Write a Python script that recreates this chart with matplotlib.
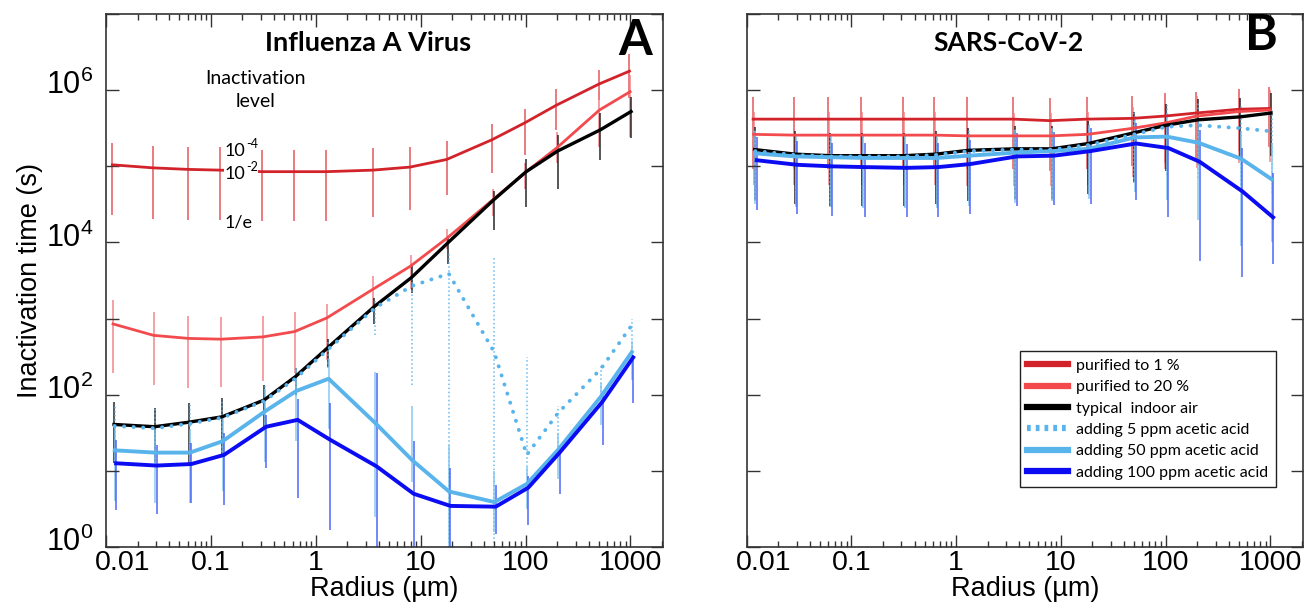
import numpy as np
import matplotlib
matplotlib.use("Agg")
import matplotlib.pyplot as plt
from matplotlib import font_manager as fm
from matplotlib.ticker import FixedLocator, FuncFormatter, LogLocator, NullLocator
from matplotlib.transforms import ScaledTranslation

# droplet radius (um) of each computed point
radius = [0.0115, 0.028, 0.06, 0.123, 0.31, 0.62, 1.26, 3.5, 7.9, 17.7, 48, 98, 195, 500, 980]

labels = ["purified to 1 %", "purified to 20 %", "typical  indoor air",
          "adding 5 ppm acetic acid", "adding 50 ppm acetic acid", "adding 100 ppm acetic acid"]

# log10 of the inactivation time (s), 10^-2 level (line), 10^-4 (hi) and 1/e (lo)
# --- Influenza A
fluA_pur1 = [5.02, 4.98, 4.96, 4.95, 4.93, 4.93, 4.93, 4.95, 4.99, 5.09, 5.35, 5.57, 5.80, 6.08, 6.25]
fluA_pur1_hi = [5.31, 5.27, 5.26, 5.25, 5.22, 5.22, 5.22, 5.24, 5.26, 5.33, 5.56, 5.75, 6.02, 6.27, 6.48]
fluA_pur1_lo = [4.36, 4.31, 4.29, 4.29, 4.28, 4.28, 4.28, 4.33, 4.43, 4.63, 4.91, 5.15, 5.48, 5.87, 5.90]
fluA_pur20 = [2.93, 2.78, 2.74, 2.73, 2.76, 2.83, 3.01, 3.39, 3.69, 4.06, 4.56, 4.92, 5.24, 5.74, 5.98]
fluA_pur20_hi = [3.24, 3.09, 3.04, 3.02, 3.04, 3.09, 3.19, 3.56, 3.83, 4.18, 4.70, 5.05, 5.45, 5.87, 6.20]
fluA_pur20_lo = [2.28, 2.13, 2.09, 2.10, 2.18, 2.28, 2.45, 3.17, 3.39, 3.91, 4.35, 4.70, 5.05, 5.26, 5.39]
fluA_indoor = [1.61, 1.58, 1.64, 1.71, 1.93, 2.24, 2.62, 3.16, 3.54, 4.00, 4.56, 4.93, 5.20, 5.48, 5.72]
fluA_indoor_hi = [1.90, 1.83, 1.89, 1.96, 2.13, 2.35, 2.73, 3.27, 3.69, 4.09, 4.67, 5.10, 5.41, 5.70, 5.91]
fluA_indoor_lo = [1.10, 1.11, 1.11, 1.21, 1.58, 2.00, 2.37, 2.93, 3.34, 3.72, 4.17, 4.46, 4.70, 5.08, 5.37]
fluA_ac5 = [1.59, 1.56, 1.62, 1.70, 1.92, 2.22, 2.60, 3.14, 3.43, 3.59, 2.56, 1.21, 1.76, 2.34, 2.91]
fluA_ac5_hi = [1.88, 1.82, 1.88, 1.95, 2.12, 2.34, 2.72, 3.25, 3.55, 3.87, 3.81, 2.50, 1.85, 2.40, 3.00]
fluA_ac5_lo = [1.08, 1.10, 1.10, 1.20, 1.56, 1.98, 2.35, 2.78, 2.13, 0.05, 0.05, 0.95, 1.21, 1.98, 2.56]
fluA_ac50 = [1.27, 1.24, 1.24, 1.39, 1.78, 2.05, 2.21, 1.63, 1.14, 0.73, 0.59, 0.83, 1.28, 1.98, 2.56]
fluA_ac50_hi = [1.57, 1.54, 1.54, 1.69, 2.08, 2.35, 2.47, 2.30, 1.85, 1.34, 1.00, 1.05, 1.50, 2.15, 2.70]
fluA_ac50_lo = [0.61, 0.58, 0.58, 0.73, 1.12, 1.39, 1.55, 0.40, 0.85, -0.5, 0.20, 0.50, 0.90, 1.60, 2.20]
fluA_ac100 = [1.10, 1.07, 1.09, 1.21, 1.58, 1.67, 1.41, 1.06, 0.70, 0.54, 0.53, 0.78, 1.24, 1.91, 2.49]
fluA_ac100_hi = [1.41, 1.34, 1.37, 1.50, 1.74, 1.95, 1.89, 2.28, 1.39, 1.04, 0.82, 0.93, 1.30, 1.98, 2.52]
fluA_ac100_lo = [0.48, 0.43, 0.58, 0.55, 1.04, 0.65, 0.22, -0.5, -0.5, -0.5, 0.17, 0.29, 0.69, 1.34, 1.89]

# --- SARS-CoV-2
cov_pur1 = [5.62, 5.62, 5.62, 5.62, 5.62, 5.62, 5.62, 5.62, 5.60, 5.62, 5.63, 5.66, 5.70, 5.75, 5.76]
cov_pur1_hi = [5.91, 5.91, 5.91, 5.91, 5.91, 5.91, 5.91, 5.91, 5.90, 5.91, 5.93, 5.96, 5.98, 6.02, 6.04]
cov_pur1_lo = [4.96, 4.96, 4.96, 4.96, 4.96, 4.96, 4.96, 4.96, 4.94, 4.96, 5.00, 5.05, 5.10, 5.20, 5.25]
cov_pur20 = [5.42, 5.41, 5.41, 5.41, 5.41, 5.41, 5.40, 5.40, 5.40, 5.42, 5.50, 5.57, 5.66, 5.72, 5.74]
cov_pur20_hi = [5.72, 5.71, 5.71, 5.71, 5.71, 5.71, 5.70, 5.70, 5.70, 5.72, 5.78, 5.84, 5.92, 5.98, 6.00]
cov_pur20_lo = [4.76, 4.75, 4.75, 4.75, 4.75, 4.75, 4.74, 4.74, 4.74, 4.76, 4.86, 4.96, 4.98, 5.04, 5.06]
cov_indoor = [5.22, 5.16, 5.14, 5.14, 5.14, 5.16, 5.21, 5.23, 5.23, 5.30, 5.44, 5.54, 5.61, 5.65, 5.70]
cov_indoor_hi = [5.52, 5.46, 5.44, 5.44, 5.44, 5.46, 5.51, 5.53, 5.53, 5.60, 5.72, 5.82, 5.88, 5.90, 5.96]
cov_indoor_lo = [4.56, 4.50, 4.48, 4.48, 4.48, 4.50, 4.55, 4.57, 4.57, 4.64, 4.80, 4.94, 5.02, 5.08, 5.14]
cov_ac5 = [5.20, 5.15, 5.13, 5.13, 5.13, 5.15, 5.20, 5.22, 5.22, 5.28, 5.42, 5.52, 5.54, 5.50, 5.46]
cov_ac5_hi = [5.50, 5.45, 5.43, 5.43, 5.43, 5.45, 5.50, 5.52, 5.52, 5.58, 5.72, 5.80, 5.84, 5.80, 5.76]
cov_ac5_lo = [4.54, 4.49, 4.47, 4.47, 4.47, 4.49, 4.54, 4.56, 4.56, 4.62, 4.78, 4.88, 4.85, 4.75, 4.65]
cov_ac50 = [5.17, 5.13, 5.12, 5.11, 5.11, 5.11, 5.14, 5.18, 5.20, 5.23, 5.38, 5.39, 5.31, 5.10, 4.83]
cov_ac50_hi = [5.47, 5.43, 5.42, 5.41, 5.41, 5.41, 5.44, 5.48, 5.50, 5.53, 5.66, 5.70, 5.62, 5.45, 5.30]
cov_ac50_lo = [4.51, 4.47, 4.46, 4.45, 4.45, 4.45, 4.48, 4.52, 4.54, 4.57, 4.66, 4.56, 4.30, 3.95, 4.00]
cov_ac100 = [5.08, 5.02, 5.00, 4.99, 4.98, 4.99, 5.03, 5.13, 5.14, 5.20, 5.30, 5.24, 5.06, 4.67, 4.33]
cov_ac100_hi = [5.39, 5.33, 5.31, 5.30, 5.29, 5.30, 5.34, 5.44, 5.45, 5.50, 5.57, 5.59, 5.48, 5.24, 4.91]
cov_ac100_lo = [4.43, 4.37, 4.35, 4.34, 4.33, 4.34, 4.38, 4.48, 4.49, 4.50, 4.56, 4.33, 3.76, 3.54, 3.72]

xtick_vals = [0.01, 0.1, 1, 10, 100, 1000]
xtick_text = ["0.01", "0.1", "1", "10", "100", "1000"]

# line styles per scenario: colour, bar colour, width, dash, x-dodge in decades
styles = [
    dict(c="#d2232a", bc="#e0454c", lw=2.0, ls="-", dx=0.000),
    dict(c="#f24a4d", bc="#f07a7e", lw=2.0, ls="-", dx=0.006),
    dict(c="#000000", bc="#111111", lw=2.4, ls="-", dx=0.015),
    dict(c="#5ab4ec", bc="#5ab4ec", lw=2.8, ls=(0, (0.05, 2.4)), dx=0.020),
    dict(c="#5ab4ec", bc="#7cc4f0", lw=2.8, ls="-", dx=0.022),
    dict(c="#0b0cf2", bc="#3c55f5", lw=2.8, ls="-", dx=0.035),
]

names = {f.name for f in fm.fontManager.ttflist}
narrow = "Liberation Sans Narrow" if "Liberation Sans Narrow" in names else "Liberation Sans"
plt.rcParams["font.family"] = ["Lato", "DejaVu Sans"]
plt.rcParams["mathtext.default"] = "regular"

fig = plt.figure(figsize=(13.11, 6.11), dpi=100)
axA = fig.add_axes([0.0809, 0.1047, 0.4249, 0.8723])
axB = fig.add_axes([0.5696, 0.1047, 0.4243, 0.8723])

panels = [
    (axA, [(fluA_pur1, fluA_pur1_lo, fluA_pur1_hi), (fluA_pur20, fluA_pur20_lo, fluA_pur20_hi),
           (fluA_indoor, fluA_indoor_lo, fluA_indoor_hi), (fluA_ac5, fluA_ac5_lo, fluA_ac5_hi),
           (fluA_ac50, fluA_ac50_lo, fluA_ac50_hi), (fluA_ac100, fluA_ac100_lo, fluA_ac100_hi)]),
    (axB, [(cov_pur1, cov_pur1_lo, cov_pur1_hi), (cov_pur20, cov_pur20_lo, cov_pur20_hi),
           (cov_indoor, cov_indoor_lo, cov_indoor_hi), (cov_ac5, cov_ac5_lo, cov_ac5_hi),
           (cov_ac50, cov_ac50_lo, cov_ac50_hi), (cov_ac100, cov_ac100_lo, cov_ac100_hi)]),
]

line_order = [0, 1, 2, 4, 5, 3]  # dotted 5 ppm drawn last, over the indoor curve
r = np.array(radius)
for ax, series in panels:
    for k, (mid, lo, hi) in enumerate(series):
        st = styles[k]
        x = r * 10 ** st["dx"]
        ax.vlines(x, 10 ** np.array(lo), 10 ** np.array(hi), color=st["bc"], lw=1.1,
                  linestyles=":" if k == 3 else "-", alpha=0.9, zorder=1)
    for k in line_order:
        mid = series[k][0]
        st = styles[k]
        ax.plot(r * 10 ** st["dx"], 10 ** np.array(mid), color=st["c"], lw=st["lw"],
                ls=st["ls"], dash_capstyle="round", zorder=2 + line_order.index(k),
                label=labels[k])

    ax.set_xscale("log")
    ax.set_yscale("log")
    ax.set_xlim(0.01, 2050)
    ax.set_ylim(1, 1e7)
    ax.xaxis.set_major_locator(FixedLocator(xtick_vals))
    ax.set_xticklabels(xtick_text)
    ax.xaxis.set_minor_locator(LogLocator(base=10, subs=np.arange(2, 10)))
    ax.yaxis.set_major_locator(FixedLocator([10.0 ** e for e in range(0, 8)]))
    ax.yaxis.set_minor_locator(NullLocator())
    ax.tick_params(which="both", direction="in", top=True, right=True, width=1.0, color="#333333")
    ax.tick_params(which="major", length=9)
    ax.tick_params(axis="x", which="major", pad=2)
    ax.tick_params(axis="y", which="major", pad=9)
    ax.tick_params(which="minor", length=4)
    for lab in ax.get_xticklabels():
        lab.set_fontfamily(narrow)
        lab.set_fontsize(20.5)
    for sp in ax.spines.values():
        sp.set_color("#333333")
        sp.set_linewidth(1.2)
    ax.set_xlabel("Radius (\u00b5m)", family=narrow, fontsize=19.5, labelpad=0)

axA.yaxis.set_major_formatter(FuncFormatter(
    lambda v, p: "$10^{%d}$" % round(np.log10(v)) if round(np.log10(v)) % 2 == 0 else ""))
for lab in axA.get_yticklabels():
    lab.set_fontfamily(narrow)
    lab.set_fontsize(22)
axB.yaxis.set_major_formatter(FuncFormatter(lambda v, p: ""))
axA.set_ylabel("Inactivation time (s)", family=narrow, fontsize=19.5, labelpad=2)

# first radius label sits inside the frame; power labels sit a little above their ticks
for ax in (axA, axB):
    first = ax.get_xticklabels()[0]
    first.set_transform(first.get_transform() + ScaledTranslation(0.17, 0, fig.dpi_scale_trans))
for t in axA.yaxis.get_major_ticks():
    t.label1.set_transform(t.label1.get_transform() + ScaledTranslation(0, 0.08, fig.dpi_scale_trans))

axA.text(0.47, 0.945, "Influenza A Virus", transform=axA.transAxes, ha="center", va="center",
         fontsize=19.5, fontweight="bold")
axA.text(0.95, 0.95, "A", transform=axA.transAxes, ha="center", va="center",
         fontsize=35, fontweight="bold")
axB.text(0.47, 0.945, "SARS-CoV-2", transform=axB.transAxes, ha="center", va="center",
         fontsize=19, fontweight="bold")
axB.text(0.925, 0.96, "B", transform=axB.transAxes, ha="center", va="center",
         fontsize=36, fontweight="bold")

axA.text(0.268, 0.858, "Inactivation\nlevel", transform=axA.transAxes, ha="center", va="center",
         fontsize=14, linespacing=1.45)


def power_label(ax, y, expo, **kw):
    # "10" with a raised hyphenated exponent, as in the panel annotation
    ax.text(0.213, y, "10", transform=ax.transAxes, ha="left", va="center", fontsize=13, **kw)
    ax.annotate(expo, xy=(0.213, y), xycoords=ax.transAxes, xytext=(15.5, 5),
                textcoords="offset points", ha="left", va="center", fontsize=9, **kw)


power_label(axA, 0.743, "-4")
power_label(axA, 0.70, "-2", bbox=dict(facecolor="white", edgecolor="none", pad=0.3), zorder=10)
axA.text(0.213, 0.608, "1/e", transform=axA.transAxes, ha="left", va="center", fontsize=13)

handles, labs = axB.get_legend_handles_labels()
order = [labs.index(l) for l in labels]
leg = axB.legend([handles[i] for i in order], [labs[i] for i in order],
                 loc="lower left", bbox_to_anchor=(0.476, 0.098), fontsize=11.5,
                 frameon=True, fancybox=False, edgecolor="#222222", framealpha=1,
                 handlelength=2.6, handletextpad=0.5, labelspacing=0.45, borderpad=0.45)
leg.get_frame().set_linewidth(1.0)
for h in leg.get_lines():
    h.set_linewidth(4.5)
leg.get_lines()[3].set_linestyle((0, (0.6, 0.8)))
leg.get_lines()[3].set_dash_capstyle("butt")

fig.savefig("out.png", dpi=100)
